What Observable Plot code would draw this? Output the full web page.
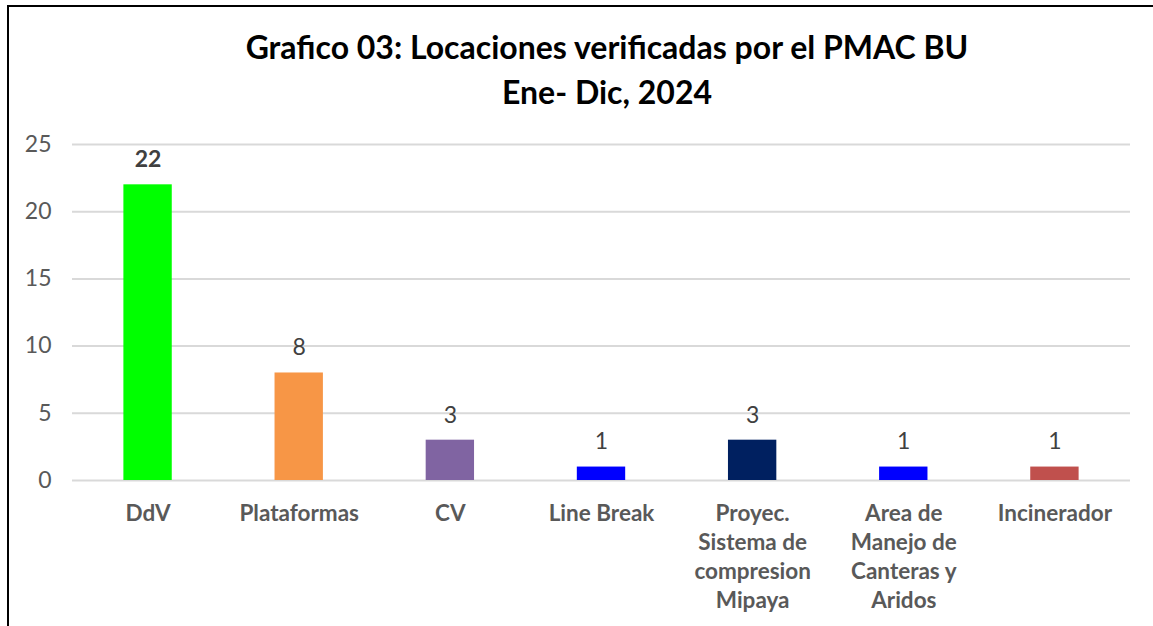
<!DOCTYPE html>
<html>
<head>
<meta charset="utf-8">
<script src="https://cdn.jsdelivr.net/npm/d3@7"></script>
<script src="https://cdn.jsdelivr.net/npm/@observablehq/plot@0.6"></script>
<style>
  html, body { margin: 0; padding: 0; background: #fff; overflow: hidden; }
  body { width: 1153px; height: 626px; position: relative; font-family: Lato, "Liberation Sans", sans-serif; }
  #frame { position: absolute; left: 7px; top: 5px; width: 1200px; height: 700px; border: 2px solid #000; box-sizing: border-box; }
  .title { position: absolute; left: 607px; transform: translateX(-50%); white-space: nowrap; font-weight: bold; font-size: 32px; color: #000; line-height: 1; }
  #t1 { top: 31px; }
  #t2 { top: 76px; }
  #chart { position: absolute; left: 0; top: 120px; }
</style>
</head>
<body>
<div id="frame"></div>
<div class="title" id="t1">Grafico 03: Locaciones verificadas por el PMAC BU</div>
<div class="title" id="t2">Ene- Dic, 2024</div>
<div id="chart"></div>
<script>
const categories = ["DdV", "Plataformas", "CV", "Line Break", "Proyec. Sistema de compresion Mipaya", "Area de Manejo de Canteras y Aridos", "Incinerador"];
const tickLabels = ["DdV", "Plataformas", "CV", "Line Break", "Proyec.\nSistema de\ncompresion\nMipaya", "Area de\nManejo de\nCanteras y\nAridos", "Incinerador"];
const values = [22, 8, 3, 1, 3, 1, 1];
const colors = ["#00FF00", "#F79646", "#8064A2", "#0000FF", "#002060", "#0000FF", "#C0504D"];
const yTicks = [0, 5, 10, 15, 20, 25];

const data = categories.map((c, i) => ({category: c, value: values[i], color: colors[i]}));
const maxVal = d3.max(values);

const plot = Plot.plot({
  width: 1153,
  height: 506,
  marginTop: 24,
  marginBottom: 146,
  marginLeft: 72,
  marginRight: 23,
  style: {fontFamily: "Lato, 'Liberation Sans', sans-serif", fontSize: "23px", background: "transparent"},
  x: {domain: categories, paddingInner: 0.68, paddingOuter: 0.34, round: false, label: null},
  y: {domain: [0, 25], label: null},
  marks: [
    Plot.gridY(yTicks, {stroke: "#d9d9d9", strokeOpacity: 1, strokeWidth: 2}),
    Plot.barY(data, {x: "category", y: "value", fill: "color"}),
    Plot.text(data.filter(d => d.value === maxVal), {x: "category", y: "value", text: d => String(d.value), dy: -25, fill: "#404040", fontWeight: "bold", fontSize: 23}),
    Plot.text(data.filter(d => d.value !== maxVal), {x: "category", y: "value", text: d => String(d.value), dy: -25, fill: "#404040", fontSize: 23}),
    Plot.axisY({ticks: yTicks, tickSize: 0, tickPadding: 21, fill: "#595959", fontSize: 23, label: null}),
    Plot.axisX({tickSize: 0, tickPadding: 20, fill: "#595959", fontSize: 22.5, fontWeight: "bold", lineHeight: 1.29, tickFormat: d => tickLabels[categories.indexOf(d)], label: null})
  ]
});
document.getElementById("chart").appendChild(plot);
</script>
</body>
</html>
